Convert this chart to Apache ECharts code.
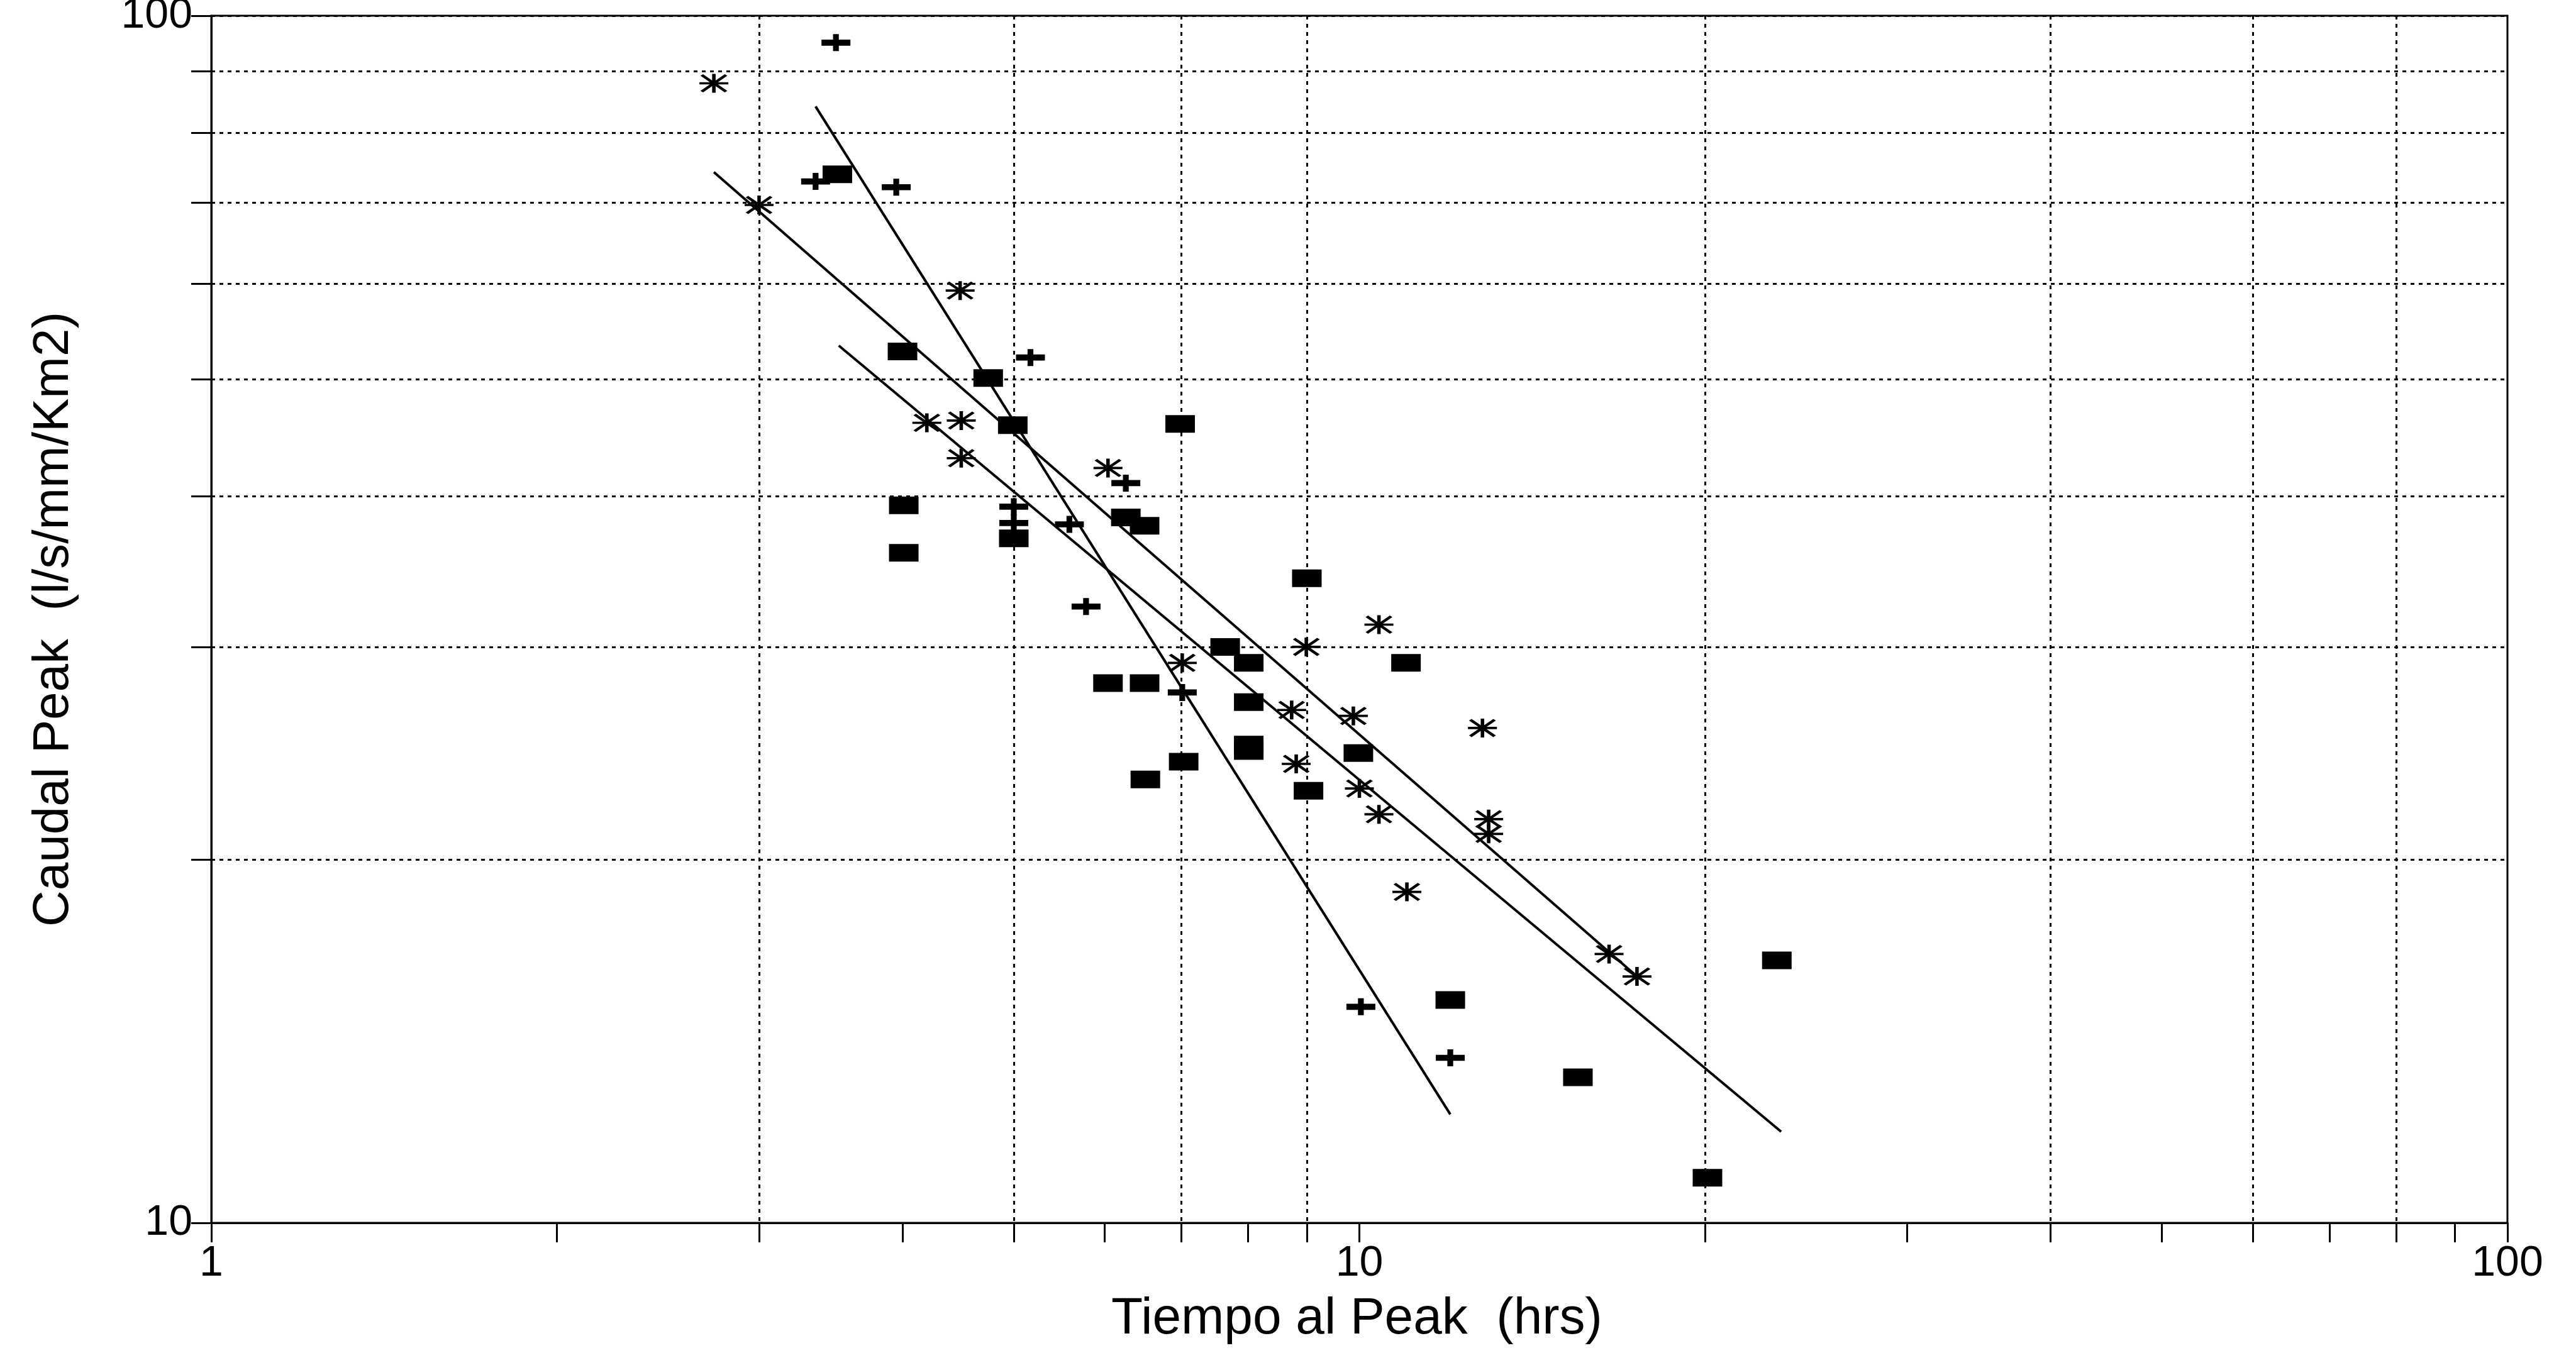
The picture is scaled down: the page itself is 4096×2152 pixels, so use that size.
<!DOCTYPE html>
<html lang="es">
<head>
    <meta charset="UTF-8">
    <title>Caudal Peak vs Tiempo al Peak</title>
    <style>
        html, body {
            margin: 0;
            padding: 0;
            background: #ffffff;
        }
        #main {
            width: 4096px;
            height: 2152px;
        }
    </style>
    <script type="text/javascript" src="https://cdn.jsdelivr.net/npm/echarts@6.0.0/dist/echarts.min.js"></script>
</head>
<body>
<div id="main"></div>
<script type="text/javascript">
    // ticks and labels of the log axes
    var xTicks = [1, 2, 3, 4, 5, 6, 7, 8, 9, 10, 20, 30, 40, 50, 60, 70, 80, 90, 100];
    var xGrid = [3, 5, 7, 9, 20, 40, 60, 80];
    var xLabels = [1, 10, 100];
    var yTicks = [10, 20, 30, 40, 50, 60, 70, 80, 90, 100];
    var yLabels = [10, 100];

    // [Tiempo al Peak (hrs), Caudal Peak (l/s/mm/Km2)]
    var asterisco = [[2.74, 87.9], [3.00, 69.7], [4.49, 59.2], [4.20, 46.0], [4.50, 46.2], [4.50, 43.0],
        [6.04, 42.2], [8.99, 30.0], [7.01, 29.1], [10.4, 31.3], [8.73, 26.6], [9.88, 26.3],
        [12.8, 25.7], [8.81, 24.0], [10.0, 22.9], [10.4, 21.8], [12.96, 21.6], [12.96, 21.0],
        [11.0, 18.8], [16.5, 16.7], [17.45, 16.0]];
    var cruz = [[3.50, 95.0], [3.36, 72.9], [3.95, 72.1], [5.17, 52.1], [6.26, 41.0], [5.00, 39.2],
        [5.00, 38.0], [5.59, 37.9], [5.78, 32.4], [7.01, 27.5], [10.03, 15.1], [12.0, 13.7]];
    var rectangulo = [[3.51, 73.9], [4.00, 52.7], [4.75, 50.1], [4.99, 45.8], [6.98, 45.9], [4.01, 39.3],
        [4.01, 35.9], [5.00, 36.9], [6.26, 38.4], [6.50, 37.8], [9.00, 34.2], [7.64, 30.0],
        [8.01, 29.1], [10.98, 29.1], [6.04, 28.0], [6.50, 28.0], [8.01, 27.0], [8.01, 24.9],
        [8.01, 24.6], [9.98, 24.5], [7.03, 24.1], [6.51, 23.3], [9.03, 22.8], [23.1, 16.5],
        [12.0, 15.3], [15.5, 13.2], [20.1, 10.9]];

    // fitted lines (two end points each)
    var lineaA = [[3.36, 84.1], [12.0, 12.3]];
    var lineaB = [[2.74, 74.2], [17.45, 16.0]];
    var lineaC = [[3.52, 53.3], [23.3, 11.9]];

    var fuente = 'Liberation Sans, Arial, sans-serif';
    var asteriscoPath = 'path://M0,50 L100,50 M50,0 L50,100 M8,6 L92,94 M8,94 L92,6';
    var cruzPath = 'path://M0,32 L40,32 L40,0 L60,0 L60,32 L100,32 L100,68 L60,68 L60,100 L40,100 L40,68 L0,68 Z';

    var chart = echarts.init(document.getElementById('main'));

    function linea(data) {
        return {
            type: 'line',
            data: data,
            symbol: 'none',
            silent: true,
            lineStyle: {color: '#000', width: 4},
            z: 2
        };
    }

    var option = {
        animation: false,
        backgroundColor: '#ffffff',
        grid: {
            left: 336,
            right: 109,
            top: 25,
            bottom: 207,
            show: true,
            borderColor: '#000',
            borderWidth: 3,
            containLabel: false,
            outerBoundsMode: 'none'
        },
        xAxis: [{
            type: 'log',
            logBase: 10,
            min: 1,
            max: 100,
            position: 'bottom',
            name: 'Tiempo al Peak  (hrs)',
            nameLocation: 'middle',
            nameGap: 112,
            nameTextStyle: {fontSize: 82, color: '#000', fontFamily: fuente, padding: [0, 8, 0, 0]},
            axisLine: {show: true, lineStyle: {color: '#000', width: 3}},
            axisTick: {show: true, inside: false, length: 31, customValues: xTicks,
                lineStyle: {color: '#000', width: 3}},
            axisLabel: {customValues: xLabels, margin: 31, fontSize: 68, color: '#000', fontFamily: fuente},
            splitLine: {show: false}
        }, {
            type: 'log',
            logBase: 10,
            min: 1,
            max: 100,
            position: 'bottom',
            axisLine: {show: false},
            axisTick: {show: false, customValues: xGrid},
            axisLabel: {show: false},
            splitLine: {show: true, lineStyle: {color: '#000', width: 3, type: [6, 7]}}
        }],
        yAxis: {
            type: 'log',
            logBase: 10,
            min: 10,
            max: 100,
            name: 'Caudal Peak  (l/s/mm/Km2)',
            nameLocation: 'middle',
            nameGap: 210,
            nameTextStyle: {fontSize: 80, color: '#000', fontFamily: fuente},
            axisLine: {show: true, lineStyle: {color: '#000', width: 3}},
            axisTick: {show: true, inside: false, length: 32, customValues: yTicks,
                lineStyle: {color: '#000', width: 3}},
            axisLabel: {customValues: yLabels, margin: 30, fontSize: 68, color: '#000', fontFamily: fuente},
            splitLine: {show: true, lineStyle: {color: '#000', width: 3, type: [6, 7]}}
        },
        series: [
            linea(lineaA),
            linea(lineaB),
            linea(lineaC),
            {
                type: 'scatter',
                data: asterisco,
                symbol: asteriscoPath,
                symbolSize: [46, 30],
                itemStyle: {color: 'transparent', borderColor: '#000', borderWidth: 4.5, opacity: 1},
                z: 3
            }, {
                type: 'scatter',
                data: cruz,
                symbol: cruzPath,
                symbolSize: [46, 27],
                itemStyle: {color: '#000', opacity: 1},
                z: 3
            }, {
                type: 'scatter',
                data: rectangulo,
                symbol: 'rect',
                symbolSize: [47, 28],
                itemStyle: {color: '#000', opacity: 1},
                z: 3
            }
        ]
    };
    chart.setOption(option);
</script>
</body>
</html>
